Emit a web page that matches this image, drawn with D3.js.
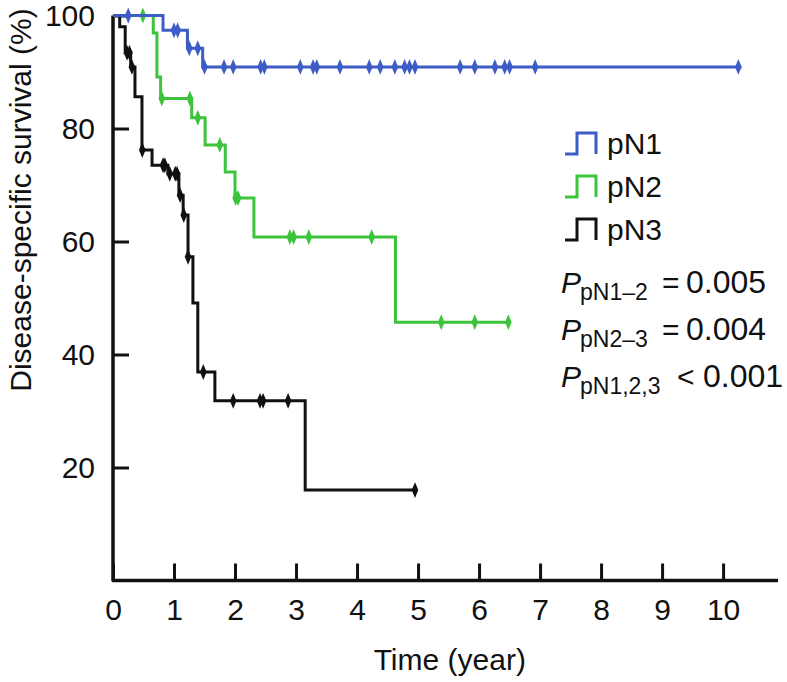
<!DOCTYPE html>
<html>
<head>
<meta charset="utf-8">
<script src="https://cdn.jsdelivr.net/npm/d3@7"></script>
<style>
  html, body { margin: 0; padding: 0; background: #fff; }
  svg { display: block; }
  text { font-family: "Liberation Sans", Arial, Helvetica, sans-serif; fill: #111; }
</style>
</head>
<body>
<svg id="chart" width="787" height="682"></svg>
<script>
// ---- data ----
const groups = ["pN1", "pN2", "pN3"];
const colors = ["#3d5cc6", "#3cc43c", "#111111"];

// step times (years) and survival (%) after each step
const pN1Times = [0, 0.82, 1.22, 1.47];
const pN1Surv  = [100, 97.4, 94.2, 90.9];
const pN1End = 10.3;
const pN1Censor = [0.25, 1.0, 1.06, 1.25, 1.39, 1.5, 1.82, 1.97, 2.42, 2.48, 3.07, 3.28, 3.34, 3.72,
                   4.2, 4.38, 4.62, 4.78, 4.86, 4.95, 5.69, 5.93, 6.26, 6.42, 6.5, 6.92, 10.25];

const pN2Times = [0, 0.66, 0.72, 0.78, 1.29, 1.51, 1.84, 2.0, 2.31, 4.63];
const pN2Surv  = [100, 96.9, 89.1, 85.3, 81.9, 77.1, 72.3, 67.7, 60.8, 45.7];
const pN2End = 6.5;
const pN2Censor = [0.49, 0.8, 1.26, 1.39, 1.75, 2.01, 2.05, 2.9, 2.96, 3.21, 4.24, 5.38, 5.93, 6.48];

const pN3Times = [0, 0.11, 0.2, 0.29, 0.36, 0.475, 0.64, 0.9, 1.08, 1.15, 1.23, 1.31, 1.39, 1.67, 3.15];
const pN3Surv  = [100, 98, 93.4, 90.9, 85.6, 76.2, 73.5, 72.0, 68.2, 64.7, 57.3, 49.1, 36.9, 31.8, 16.0];
const pN3End = 4.98;
const pN3Censor = [0.23, 0.27, 0.31, 0.48, 0.82, 0.85, 0.93, 1.02, 1.05, 1.1, 1.16, 1.23, 1.48,
                   1.97, 2.41, 2.46, 2.87, 4.95];

const xTicks = [0, 1, 2, 3, 4, 5, 6, 7, 8, 9, 10];
const yTicks = [20, 40, 60, 80, 100];
const xTitle = "Time (year)";
const yTitle = "Disease-specific survival (%)";
const pLabels = [
  { sub: "pN1\u20132", rel: "=", val: "0.005" },
  { sub: "pN2\u20133", rel: "=", val: "0.004" },
  { sub: "pN1,2,3", rel: "<", val: "0.001" }
];

// ---- chart ----
const svg = d3.select("#chart");
const x = d3.scaleLinear().domain([0, 10.9]).range([113, 778]);
const y = d3.scaleLinear().domain([0, 100]).range([580.5, 15.5]);
const FS = 30;
const FONT = '"Liberation Sans", Arial, Helvetica, sans-serif';

const series = [
  { name: groups[0], times: pN1Times, surv: pN1Surv, end: pN1End, censor: pN1Censor, color: colors[0] },
  { name: groups[1], times: pN2Times, surv: pN2Surv, end: pN2End, censor: pN2Censor, color: colors[1] },
  { name: groups[2], times: pN3Times, surv: pN3Surv, end: pN3End, censor: pN3Censor, color: colors[2] }
];

// axes
const yAxis = d3.axisLeft(y).tickValues(yTicks).tickSizeInner(-16).tickSizeOuter(0).tickPadding(18);
const gy = svg.append("g").attr("transform", `translate(${x(0)},0)`).call(yAxis);
const xAxis = d3.axisBottom(x).tickValues(xTicks).tickSizeInner(-17).tickSizeOuter(0).tickPadding(18);
const gx = svg.append("g").attr("transform", `translate(0,${y(0)})`).call(xAxis);
[gx, gy].forEach(g => {
  g.attr("font-size", null).attr("font-family", null);
  g.select(".domain").remove();
  g.selectAll(".tick line").attr("stroke", "#111").attr("stroke-width", 3);
  g.selectAll(".tick text")
    .style("font-size", FS + "px").style("font-family", FONT).style("fill", "#111");
});
svg.append("path")
  .attr("d", `M${x(0)},${y(100)}V${y(0)}H${x(10.9)}`)
  .attr("fill", "none").attr("stroke", "#111").attr("stroke-width", 3.5)
  .attr("stroke-linejoin", "round");

// titles
svg.append("text").attr("x", x(5.52)).attr("y", 670).attr("text-anchor", "middle")
  .style("font-size", FS + "px").text(xTitle);
svg.append("text").attr("transform", `translate(31,${200}) rotate(-90)`).attr("text-anchor", "middle")
  .style("font-size", FS + "px").text(yTitle);

// curves (black, green, blue drawing order)
const line = d3.line().x(d => x(d[0])).y(d => y(d[1])).curve(d3.curveStepAfter);
function stepAt(s, t) {
  let v = s.surv[0];
  for (let i = 0; i < s.times.length; i++) if (s.times[i] <= t) v = s.surv[i];
  return v;
}
[series[2], series[1], series[0]].forEach(s => {
  const pts = s.times.map((t, i) => [t, s.surv[i]]);
  pts.push([s.end, s.surv[s.surv.length - 1]]);
  const g = svg.append("g");
  g.append("path").attr("d", line(pts)).attr("fill", "none")
    .attr("stroke", s.color).attr("stroke-width", 3);
  g.selectAll("path.c").data(s.censor).join("path").attr("class", "c")
    .attr("d", t => {
      const cx = x(t), cy = y(stepAt(s, t));
      return `M${cx},${cy - 6}L${cx + 2.5},${cy}L${cx},${cy + 6}L${cx - 2.5},${cy}Z`;
    })
    .attr("fill", s.color).attr("stroke", s.color).attr("stroke-width", 1.5);
});

// legend
const legBase = [154, 197, 240];
series.forEach((s, i) => {
  const b = legBase[i];
  svg.append("path")
    .attr("d", `M565,${b}H577V${b - 21}H596V${b}`)
    .attr("fill", "none").attr("stroke", s.color).attr("stroke-width", 3);
  svg.append("text").attr("x", 607).attr("y", b).style("font-size", FS + "px").text(s.name);
});

// p-values
const pBase = [293, 340, 387];
pLabels.forEach((p, i) => {
  const b = pBase[i];
  svg.append("text").attr("x", 561).attr("y", b).style("font-size", "30px")
    .attr("font-style", "italic").text("P");
  svg.append("text").attr("x", 580).attr("y", b + 7).style("font-size", "23px").text(p.sub);
  const relX = p.rel === "=" ? 662 : 677;
  svg.append("text").attr("x", relX).attr("y", b).style("font-size", "30px").text(p.rel);
  svg.append("text").attr("x", p.rel === "=" ? 686 : 703).attr("y", b).style("font-size", "32px").text(p.val);
});
</script>
</body>
</html>
